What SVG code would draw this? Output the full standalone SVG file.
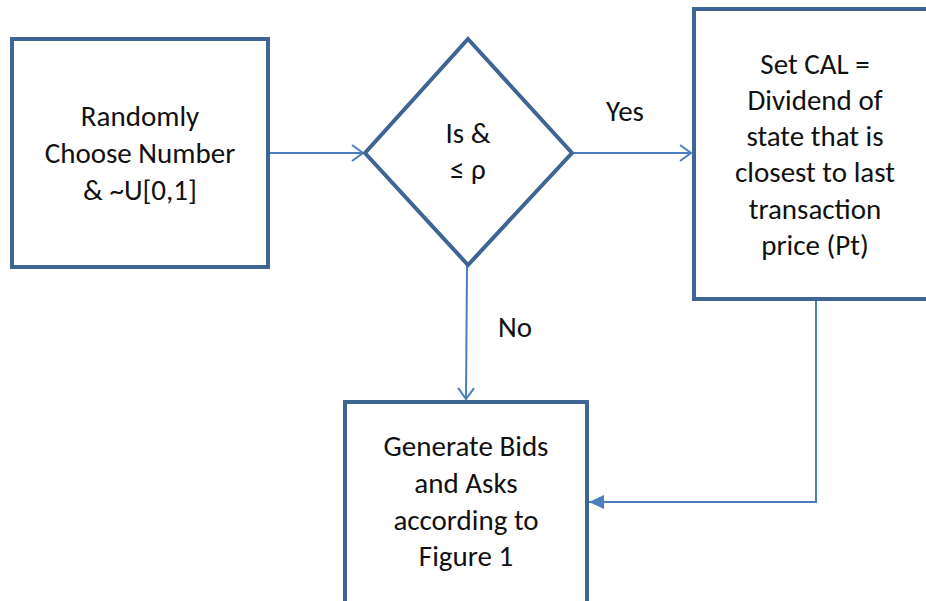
<svg xmlns="http://www.w3.org/2000/svg" width="926" height="601" viewBox="0 0 926 601">
<style>
.node{fill:#fff;stroke:#3f6594;stroke-width:4}
.lbl{font-family:Carlito,"Open Sans","Liberation Sans",sans-serif;font-size:29px;fill:#111;text-anchor:middle}
.conn{fill:none;stroke:#4a7ebf;stroke-width:2}
</style>
<defs>
<marker id="open" markerWidth="14" markerHeight="18" refX="12" refY="9" orient="auto" markerUnits="userSpaceOnUse">
<path d="M1,1 L12,9 L1,17" fill="none" stroke="#4a7ebf" stroke-width="2"/>
</marker>
<marker id="fill" markerWidth="16" markerHeight="14" refX="15" refY="7" orient="auto" markerUnits="userSpaceOnUse">
<path d="M0,0 L15,7 L0,14 Z" fill="#4a7ebf"/>
</marker>
</defs>
<rect width="926" height="601" fill="#fff"/>
<g id="connectors">
<line class="conn" x1="268" y1="153" x2="363" y2="153" marker-end="url(#open)"/>
<line class="conn" x1="572" y1="153" x2="691" y2="153" marker-end="url(#open)"/>
<line class="conn" x1="467" y1="266" x2="466" y2="399" marker-end="url(#open)"/>
<polyline class="conn" points="816,300 816,502 589,502" marker-end="url(#fill)"/>
<text class="lbl" x="625" y="121">Yes</text>
<text class="lbl" x="515" y="337">No</text>
</g>
<g id="n1">
<rect class="node" x="12" y="39" width="256" height="228"/>
<text class="lbl" x="140" y="126">Randomly</text>
<text class="lbl" x="140" y="163">Choose Number</text>
<text class="lbl" x="140" y="200">&amp; ~U[0,1]</text>
</g>
<g id="n2">
<polygon class="node" points="468,39 572,153 468,265 365,153"/>
<text class="lbl" x="468" y="143">Is &amp;</text>
<text class="lbl" x="468" y="179">≤ ρ</text>
</g>
<g id="n3">
<rect class="node" x="694" y="9" width="260" height="290"/>
<text class="lbl" x="815" y="74">Set CAL =</text>
<text class="lbl" x="815" y="110">Dividend of</text>
<text class="lbl" x="815" y="146">state that is</text>
<text class="lbl" x="815" y="182">closest to last</text>
<text class="lbl" x="815" y="219">transaction</text>
<text class="lbl" x="815" y="255">price (Pt)</text>
</g>
<g id="n4">
<rect class="node" x="345" y="402" width="242" height="220"/>
<text class="lbl" x="466" y="456">Generate Bids</text>
<text class="lbl" x="466" y="493">and Asks</text>
<text class="lbl" x="466" y="530">according to</text>
<text class="lbl" x="466" y="566">Figure 1</text>
</g>
</svg>
